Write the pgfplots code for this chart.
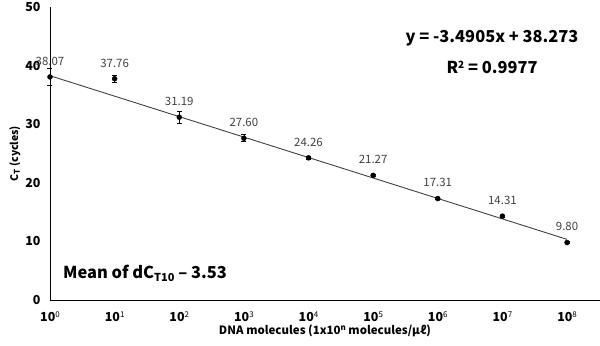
\documentclass[border=0pt]{standalone}
\usepackage{pgfplots}
\pgfplotsset{compat=1.18}
\usepackage{fontspec}
\setmainfont{Noto Sans CJK KR}
\definecolor{lab}{HTML}{404040}
\newcommand{\tp}[1]{\textbf{10}{\fontsize{8}{9}\selectfont\raisebox{0.55em}{#1}}}
\begin{document}
\begin{tikzpicture}[x=1bp,y=1bp]
\useasboundingbox (-50bp,-46bp) rectangle (550bp,300bp);
\begin{axis}[
  at={(0,0)}, anchor=origin,
  scale only axis, width=550bp, height=293bp,
  xmin=0, xmax=8.51, ymin=0, ymax=50,
  axis x line=bottom, axis y line=left,
  axis line style={-, black, line width=1pt},
  xtick={0,...,8},
  xticklabels={\tp{0},\tp{1},\tp{2},\tp{3},\tp{4},\tp{5},\tp{6},\tp{7},\tp{8}},
  ytick={0,10,...,50},
  yticklabels={\textbf{0},\textbf{10},\textbf{20},\textbf{30},\textbf{40},\textbf{50}},
  major tick length=0pt,
  tick label style={font=\fontsize{12.5}{14}\selectfont},
  xticklabel style={yshift=-8bp},
  yticklabel style={xshift=-6bp},
  xlabel={\textbf{DNA molecules (1x10{\fontsize{8}{9}\selectfont\raisebox{0.5em}{n}} molecules/\textit{μℓ})}},
  ylabel={\textbf{C{\fontsize{8}{9}\selectfont\raisebox{-0.2em}{T}} (cycles)}},
  xlabel style={font=\fontsize{11.5}{13}\selectfont, yshift=4bp},
  ylabel style={font=\fontsize{10.5}{12}\selectfont, yshift=-2bp},
  clip=false,
]
\addplot[color=lab, line width=0.9pt, forget plot] coordinates {(0,38.273) (8,10.349)};
\addplot[only marks, mark=*, mark size=2.5bp, black,
  error bars/.cd, y dir=both, y explicit,
  error bar style={line width=0.6pt, black},
  error mark options={rotate=90, mark size=2.5bp, line width=0.6pt}]
  coordinates {
  (0,38.07) +- (0,1.4)
  (1,37.76) +- (0,0.65)
  (2,31.19) +- (0,1.0)
  (3,27.60) +- (0,0.6)
  (4,24.26) +- (0,0.2)
  (5,21.27) +- (0,0.2)
  (6,17.31) +- (0,0.2)
  (7,14.31) +- (0,0.2)
  (8,9.80) +- (0,0.2)
  };
\addplot[only marks, mark=none,
  nodes near coords, point meta=explicit symbolic,
  nodes near coords style={font=\fontsize{11.5}{13}\selectfont, text=lab, anchor=south, yshift=8bp}]
  coordinates {
  (0,38.07) [38.07]
  (1,37.76) [37.76]
  (2,31.19) [31.19]
  (3,27.60) [27.60]
  (4,24.26) [24.26]
  (5,21.27) [21.27]
  (6,17.31) [17.31]
  (7,14.31) [14.31]
  (8,9.80) [9.80]
  };
\node[font=\bfseries\fontsize{16.5}{18}\selectfont, anchor=center] at (axis cs:6.84,44.7) {y = -3.4905x + 38.273};
\node[font=\bfseries\fontsize{16.5}{18}\selectfont, anchor=center] at (axis cs:6.84,39.7) {R{\fontsize{10}{11}\selectfont\raisebox{0.55em}{2}} = 0.9977};
\node[font=\bfseries\fontsize{16.5}{18}\selectfont, anchor=west, inner sep=0pt] at (axis cs:0.2,4.6) {Mean of dC{\fontsize{11}{12}\selectfont\raisebox{-0.25em}{T10}} – 3.53};
\end{axis}
\end{tikzpicture}
\end{document}
